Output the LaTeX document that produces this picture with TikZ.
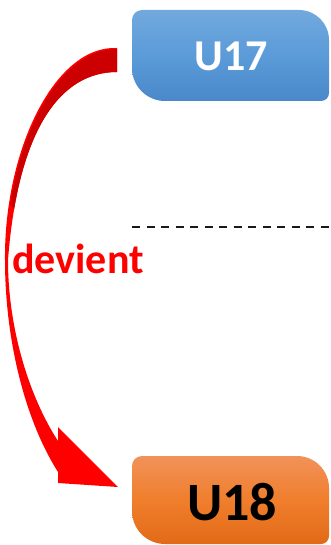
\documentclass[tikz,border=0pt]{standalone}
\usepackage{fontspec}
\setmainfont{Carlito}
\definecolor{bluetop}{HTML}{72A9DE}
\definecolor{bluemid}{HTML}{5B9BD8}
\definecolor{bluebot}{HTML}{4A88CA}
\definecolor{orangetop}{HTML}{F1925A}
\definecolor{orangemid}{HTML}{F07E2C}
\definecolor{orangebot}{HTML}{E26A17}
\definecolor{arrowdark}{HTML}{CC0000}
\definecolor{arrowred}{HTML}{FF0000}
\begin{document}
\begin{tikzpicture}[x=1pt,y=1pt,
  boxtext/.style={inner sep=0pt, anchor=base},
  bluebox/.style={top color=bluetop, bottom color=bluebot, middle color=bluemid},
  orangebox/.style={top color=orangetop, bottom color=orangebot, middle color=orangemid},
  divider/.style={draw=black!90, line width=1.8pt, dash pattern=on 8pt off 6.5pt},
  labeltext/.style={inner sep=0pt, anchor=base west, text=arrowred,
    font=\fontsize{42}{42}\selectfont\bfseries}
]
\useasboundingbox (0,0) rectangle (331,-545);
% U17 box
\shade[bluebox] (142,-10) -- (299,-10) arc[start angle=90,end angle=0,radius=30]
  -- (329,-93) arc[start angle=0,end angle=-90,radius=8]
  -- (165,-101) arc[start angle=270,end angle=180,radius=33]
  -- (132,-20) arc[start angle=180,end angle=90,radius=10] -- cycle;
\node[boxtext, text=white, font=\fontsize{44}{44}\selectfont\bfseries] (u17) at (231,-70.7) {U17};
% U18 box
\shade[orangebox] (142,-456) -- (297,-456) arc[start angle=90,end angle=0,radius=32]
  -- (329,-536) arc[start angle=0,end angle=-90,radius=8]
  -- (165,-544) arc[start angle=270,end angle=180,radius=33]
  -- (132,-466) arc[start angle=180,end angle=90,radius=10] -- cycle;
\node[boxtext, text=black, font=\fontsize{54}{54}\selectfont\bfseries] (u18) at (232,-520) {U18};
% dashed divider
\coordinate (d1) at (132,-227);
\coordinate (d2) at (331,-227);
\draw[divider] (d1) -- (d2);
% curved arrow
\coordinate (start) at (117,-60);
\coordinate (tip) at (118,-487);
\def\arrowbody{(117,-48) .. controls (55,-45) and (4,-150) .. (5,-260)
  .. controls (5,-340) and (25,-420) .. (58,-472)
  -- (58,-483) -- (tip) -- (58,-427) -- (58,-441)
  .. controls (30,-398) and (8,-330) .. (8,-260)
  .. controls (18,-130) and (60,-72) .. (117,-72) -- cycle}
\fill[arrowred] \arrowbody;
\begin{scope}
  \clip \arrowbody;
  \clip (0,-192) -- (30,-228) -- (131,-228) -- (131,0) -- (0,0) -- cycle;
  \fill[arrowdark] (118.2,-49.2) .. controls (56.2,-46.2) and (5.2,-151.2) .. (6.2,-261.2)
    -- (200,-261.2) -- (200,-49.2) -- cycle;
\end{scope}
% label
\node[labeltext] (lbl) at (12,-273) {devient};
\end{tikzpicture}
\end{document}
